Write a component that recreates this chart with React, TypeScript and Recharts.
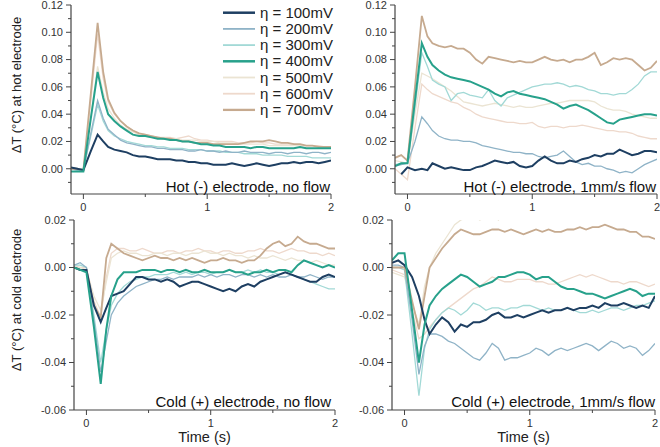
import React from "react";
import { LineChart, Line, XAxis, YAxis, Legend } from "recharts";

// time base (s), a bit denser around the 0.1 s transient
const times = [
  -0.1, -0.05, 0, 0.06, 0.115, 0.16, 0.2,
  0.25, 0.3, 0.35, 0.4, 0.45, 0.5, 0.55, 0.6, 0.65, 0.7, 0.75, 0.8, 0.85, 0.9, 0.95, 1.0,
  1.05, 1.1, 1.15, 1.2, 1.25, 1.3, 1.35, 1.4, 1.45, 1.5, 1.55, 1.6, 1.65, 1.7, 1.75, 1.8, 1.85, 1.9, 1.95, 2.0,
];

const timeTicks = [0, 0.5, 1, 1.5, 2];
const hotTicks = [-0.01, 0, 0.01, 0.02, 0.03, 0.04, 0.05, 0.06, 0.07, 0.08, 0.09, 0.1, 0.11, 0.12];
const coldTicks = [-0.06, -0.05, -0.04, -0.03, -0.02, -0.01, 0, 0.01, 0.02];

// hot electrode, no flow
const hn100 = [0.001, 0.0, -0.001, 0.013, 0.025, 0.02, 0.016,
  0.014, 0.013, 0.012, 0.01, 0.009, 0.009, 0.008, 0.007, 0.007, 0.007, 0.006, 0.006,
  0.005, 0.005, 0.004, 0.004, 0.003, 0.003, 0.003, 0.004, 0.003, 0.002, 0.003, 0.004,
  0.003, 0.002, 0.003, 0.004, 0.004, 0.005, 0.004, 0.005, 0.005, 0.004, 0.005, 0.006];
const hn200 = [0.0, -0.001, -0.001, 0.026, 0.05, 0.037, 0.029,
  0.025, 0.021, 0.019, 0.018, 0.017, 0.016, 0.016, 0.015, 0.015, 0.014, 0.014, 0.014,
  0.013, 0.013, 0.014, 0.013, 0.013, 0.012, 0.013, 0.012, 0.012, 0.013, 0.012, 0.012,
  0.012, 0.011, 0.012, 0.012, 0.011, 0.012, 0.012, 0.011, 0.012, 0.012, 0.011, 0.012];
const hn300 = [0.001, 0.0, 0.0, 0.024, 0.047, 0.035, 0.028,
  0.024, 0.022, 0.02, 0.019, 0.018, 0.017, 0.017, 0.016, 0.016, 0.015, 0.015, 0.015,
  0.014, 0.014, 0.014, 0.013, 0.013, 0.013, 0.012, 0.012, 0.012, 0.011, 0.011, 0.011,
  0.01, 0.01, 0.01, 0.01, 0.009, 0.009, 0.009, 0.009, 0.008, 0.008, 0.008, 0.008];
const hn400 = [-0.002, -0.002, -0.002, 0.037, 0.071, 0.052, 0.04,
  0.035, 0.031, 0.028, 0.025, 0.024, 0.024, 0.023, 0.022, 0.022, 0.021, 0.021, 0.02,
  0.02, 0.019, 0.018, 0.018, 0.017, 0.017, 0.016, 0.016, 0.016, 0.016, 0.015, 0.016,
  0.016, 0.015, 0.015, 0.015, 0.015, 0.015, 0.016, 0.015, 0.015, 0.015, 0.015, 0.015];
const hn500 = [0.0, 0.0, -0.001, 0.038, 0.075, 0.056, 0.044,
  0.037, 0.032, 0.029, 0.027, 0.025, 0.024, 0.023, 0.023, 0.022, 0.022, 0.022, 0.021,
  0.021, 0.021, 0.02, 0.02, 0.02, 0.019, 0.019, 0.019, 0.018, 0.018, 0.018, 0.018,
  0.018, 0.017, 0.017, 0.017, 0.017, 0.017, 0.017, 0.017, 0.017, 0.016, 0.016, 0.016];
const hn600 = [0.0, 0.0, 0.0, 0.05, 0.099, 0.066, 0.049,
  0.04, 0.035, 0.031, 0.028, 0.026, 0.025, 0.024, 0.023, 0.023, 0.023, 0.022, 0.023,
  0.024, 0.022, 0.021, 0.021, 0.02, 0.02, 0.02, 0.02, 0.019, 0.019, 0.019, 0.02,
  0.019, 0.019, 0.018, 0.018, 0.018, 0.018, 0.017, 0.017, 0.017, 0.017, 0.016, 0.016];
const hn700 = [0.0, 0.0, -0.001, 0.055, 0.107, 0.071, 0.051,
  0.041, 0.035, 0.031, 0.028, 0.026, 0.025, 0.024, 0.023, 0.022, 0.022, 0.021, 0.02,
  0.02, 0.019, 0.019, 0.019, 0.018, 0.018, 0.018, 0.018, 0.018, 0.019, 0.02, 0.02,
  0.02, 0.021, 0.02, 0.019, 0.019, 0.018, 0.018, 0.017, 0.017, 0.016, 0.016, 0.016];

// hot electrode, 1mm/s flow
const hf100 = [null, -0.004, 0.001, -0.001, 0.0, -0.001, 0.004,
  0.002, 0.0, 0.001, 0.0, -0.001, -0.001, 0.001, 0.002, 0.004, 0.006, 0.005, 0.004,
  0.005, 0.002, 0.001, 0.002, 0.006, 0.009, 0.006, 0.004, 0.004, 0.006, 0.005, 0.007,
  0.008, 0.01, 0.009, 0.011, 0.011, 0.014, 0.012, 0.01, 0.011, 0.013, 0.013, 0.012];
const hf200 = [0.002, 0.003, 0.004, 0.02, 0.038, 0.033, 0.028,
  0.024, 0.022, 0.021, 0.021, 0.02, 0.02, 0.019, 0.017, 0.016, 0.015, 0.014, 0.013,
  0.012, 0.012, 0.011, 0.011, 0.009, 0.008, 0.009, 0.01, 0.013, 0.009, 0.005, 0.003,
  0.004, 0.002, 0.002, 0.0, -0.001, -0.003, -0.002, -0.003, 0.0, 0.003, 0.005, 0.007];
const hf300 = [0.003, 0.004, 0.004, 0.045, 0.085, 0.075, 0.065,
  0.062, 0.06, 0.05, 0.055, 0.056, 0.054, 0.053, 0.052, 0.058, 0.05, 0.046, 0.052,
  0.054, 0.056, 0.058, 0.06, 0.061, 0.062, 0.062, 0.063, 0.062, 0.06, 0.061, 0.06,
  0.058, 0.057, 0.055, 0.055, 0.054, 0.055, 0.055, 0.058, 0.062, 0.068, 0.071, 0.071];
const hf400 = [0.002, 0.004, 0.004, 0.05, 0.092, 0.082, 0.076,
  0.072, 0.069, 0.067, 0.066, 0.065, 0.064, 0.062, 0.06, 0.058, 0.055, 0.053, 0.056,
  0.057, 0.055, 0.054, 0.053, 0.052, 0.051, 0.049, 0.047, 0.044, 0.046, 0.047, 0.045,
  0.043, 0.04, 0.037, 0.034, 0.033, 0.036, 0.037, 0.038, 0.039, 0.04, 0.04, 0.039];
const hf500 = [0.006, 0.005, 0.004, 0.04, 0.07, 0.068, 0.066,
  0.063, 0.06, 0.057, 0.053, 0.049, 0.048, 0.047, 0.046, 0.047, 0.048, 0.047, 0.046,
  0.045, 0.046, 0.045, 0.045, 0.046, 0.047, 0.048, 0.048, 0.049, 0.05, 0.05, 0.05,
  0.05, 0.049, 0.046, 0.044, 0.043, 0.043, 0.042, 0.04, 0.039, 0.038, 0.037, 0.037];
const hf600 = [0.0, -0.004, -0.008, 0.03, 0.062, 0.058, 0.055,
  0.053, 0.051, 0.049, 0.048, 0.045, 0.043, 0.04, 0.038, 0.037, 0.036, 0.035, 0.034,
  0.034, 0.033, 0.033, 0.034, 0.031, 0.03, 0.031, 0.031, 0.03, 0.031, 0.031, 0.032,
  0.031, 0.03, 0.029, 0.028, 0.028, 0.027, 0.027, 0.026, 0.024, 0.023, 0.022, 0.022];
const hf700 = [0.008, 0.01, 0.006, 0.06, 0.112, 0.097, 0.092,
  0.09, 0.089, 0.09, 0.088, 0.088, 0.085, 0.08, 0.077, 0.082, 0.081, 0.08, 0.079,
  0.078, 0.079, 0.078, 0.078, 0.08, 0.082, 0.08, 0.079, 0.08, 0.078, 0.08, 0.08,
  0.082, 0.085, 0.076, 0.078, 0.081, 0.08, 0.081, 0.08, 0.076, 0.072, 0.074, 0.079];

// cold electrode, no flow
const cn100 = [0.0, -0.001, -0.001, -0.016, -0.023, -0.017, -0.012,
  -0.011, -0.01, -0.007, -0.004, -0.004, -0.005, -0.005, -0.006, -0.005, -0.006, -0.008, -0.007,
  -0.006, -0.006, -0.007, -0.008, -0.009, -0.01, -0.009, -0.01, -0.008, -0.007, -0.008, -0.006,
  -0.005, -0.004, -0.003, -0.002, -0.003, -0.004, -0.005, -0.006, -0.006, -0.004, -0.003, -0.004];
const cn200 = [0.001, 0.002, 0.0, -0.022, -0.044, -0.031, -0.02,
  -0.015, -0.012, -0.01, -0.008, -0.007, -0.006, -0.005, -0.005, -0.004, -0.005, -0.004, -0.004,
  -0.004, -0.003, -0.004, -0.003, -0.004, -0.003, -0.003, -0.004, -0.003, -0.003, -0.004, -0.003,
  -0.004, -0.003, -0.004, -0.004, -0.003, -0.004, -0.004, -0.003, -0.004, -0.005, -0.004, -0.004];
const cn300 = [0.001, 0.001, 0.0, -0.02, -0.04, -0.026, -0.016,
  -0.011, -0.008, -0.006, -0.005, -0.004, -0.004, -0.003, -0.003, -0.003, -0.002, -0.003, -0.002,
  -0.003, -0.002, -0.002, -0.003, -0.002, -0.002, -0.001, -0.002, -0.002, -0.001, -0.002, -0.001,
  -0.002, -0.002, -0.003, -0.002, -0.003, -0.004, -0.005, -0.006, -0.007, -0.008, -0.009, -0.009];
const cn400 = [0.0, -0.001, -0.002, -0.025, -0.049, -0.026, -0.012,
  -0.005, -0.002, -0.002, -0.002, -0.001, -0.001, -0.001, -0.002, -0.001, -0.001, -0.002, -0.001,
  -0.002, -0.002, -0.001, -0.002, -0.002, -0.002, -0.001, -0.002, -0.002, -0.003, -0.002, -0.002,
  -0.001, -0.002, -0.001, -0.001, -0.002, 0.001, 0.003, 0.002, 0.001, 0.0, 0.001, 0.0];
const cn500 = [0.0, 0.0, -0.001, -0.012, -0.018, -0.006, 0.004,
  0.006, 0.007, 0.006, 0.006, 0.005, 0.005, 0.006, 0.006, 0.005, 0.006, 0.006, 0.005,
  0.006, 0.006, 0.007, 0.006, 0.006, 0.005, 0.006, 0.005, 0.005, 0.004, 0.005, 0.004,
  0.004, 0.005, 0.004, 0.003, 0.004, 0.003, 0.003, 0.002, 0.003, 0.002, 0.001, 0.001];
const cn600 = [0.001, 0.0, 0.0, -0.014, -0.021, -0.004, 0.006,
  0.008, 0.008, 0.007, 0.007, 0.008, 0.007, 0.006, 0.006, 0.007, 0.007, 0.006, 0.007,
  0.007, 0.008, 0.007, 0.007, 0.006, 0.007, 0.007, 0.006, 0.006, 0.007, 0.007, 0.008,
  0.007, 0.007, 0.006, 0.007, 0.008, 0.007, 0.007, 0.006, 0.006, 0.005, 0.006, 0.005];
const cn700 = [0.0, -0.001, -0.001, -0.016, -0.021, 0.004, 0.01,
  0.008, 0.006, 0.005, 0.004, 0.003, 0.004, 0.005, 0.004, 0.004, 0.003, 0.004, 0.003,
  0.004, 0.003, 0.002, 0.003, 0.003, 0.004, 0.003, 0.003, 0.002, 0.003, 0.003, 0.005,
  0.008, 0.01, 0.011, 0.009, 0.01, 0.013, 0.011, 0.01, 0.01, 0.009, 0.008, 0.008];

// cold electrode, 1mm/s flow
const cf100 = [0.002, 0.003, 0.001, -0.004, -0.012, -0.022, -0.028,
  -0.024, -0.021, -0.023, -0.027, -0.024, -0.025, -0.023, -0.023, -0.022, -0.02, -0.019, -0.021,
  -0.021, -0.02, -0.021, -0.02, -0.019, -0.018, -0.019, -0.018, -0.018, -0.017, -0.018, -0.017,
  -0.017, -0.016, -0.017, -0.015, -0.016, -0.016, -0.015, -0.016, -0.017, -0.016, -0.017, -0.012];
const cf200 = [0.001, 0.001, 0.0, -0.022, -0.045, -0.033, -0.028,
  -0.028, -0.029, -0.031, -0.032, -0.034, -0.036, -0.038, -0.039, -0.036, -0.032, -0.034, -0.039,
  -0.038, -0.038, -0.037, -0.036, -0.034, -0.035, -0.037, -0.035, -0.034, -0.035, -0.034, -0.033,
  -0.032, -0.033, -0.035, -0.033, -0.031, -0.032, -0.034, -0.033, -0.034, -0.037, -0.035, -0.032];
const cf300 = [0.0, 0.0, -0.001, -0.028, -0.054, -0.034, -0.026,
  -0.022, -0.019, -0.017, -0.018, -0.02, -0.018, -0.015, -0.016, -0.018, -0.017, -0.017, -0.018,
  -0.017, -0.017, -0.016, -0.016, -0.017, -0.018, -0.017, -0.018, -0.018, -0.017, -0.018, -0.019,
  -0.019, -0.018, -0.019, -0.018, -0.017, -0.017, -0.018, -0.017, -0.016, -0.016, -0.015, -0.014];
const cf400 = [0.003, 0.006, 0.006, -0.018, -0.04, -0.024, -0.016,
  -0.012, -0.009, -0.007, -0.005, -0.003, -0.004, -0.006, -0.008, -0.007, -0.006, -0.004, -0.004,
  -0.003, -0.002, -0.002, -0.003, -0.005, -0.004, -0.004, -0.006, -0.008, -0.009, -0.009, -0.01,
  -0.011, -0.011, -0.012, -0.013, -0.012, -0.011, -0.01, -0.009, -0.01, -0.012, -0.011, -0.011];
const cf500 = [-0.002, -0.003, -0.004, -0.015, -0.024, -0.008, 0.0,
  0.006, 0.01, 0.014, 0.018, 0.02, 0.021, 0.022, 0.02, 0.021, 0.022, 0.02, 0.024,
  0.025, 0.026, 0.025, 0.026, 0.027, 0.026, 0.026, 0.027, 0.026, 0.025, 0.026, 0.025,
  0.026, 0.025, 0.026, 0.025, 0.026, 0.025, 0.025, 0.026, 0.025, 0.025, 0.024, 0.025];
const cf600 = [-0.001, -0.002, -0.003, -0.018, -0.03, -0.028, -0.025,
  -0.022, -0.019, -0.017, -0.015, -0.013, -0.011, -0.009, -0.008, -0.006, -0.004, -0.005, -0.006,
  -0.006, -0.005, -0.005, -0.005, -0.006, -0.006, -0.007, -0.007, -0.006, -0.005, -0.004, -0.003,
  -0.004, -0.003, -0.004, -0.005, -0.006, -0.006, -0.007, -0.006, -0.006, -0.007, -0.008, -0.007];
const cf700 = [0.0, 0.0, 0.0, -0.014, -0.026, -0.012, 0.0,
  0.004, 0.008, 0.011, 0.014, 0.016, 0.015, 0.014, 0.014, 0.015, 0.016, 0.016, 0.015,
  0.016, 0.015, 0.014, 0.015, 0.016, 0.015, 0.016, 0.015, 0.015, 0.016, 0.016, 0.017,
  0.016, 0.017, 0.017, 0.018, 0.017, 0.016, 0.016, 0.015, 0.015, 0.013, 0.013, 0.012];

const series = [
  { key: "s100", label: "η = 100mV", color: "#1e3f62", width: 2 },
  { key: "s200", label: "η = 200mV", color: "#8fb3c7", width: 1.3 },
  { key: "s300", label: "η = 300mV", color: "#a2d9d6", width: 1.3 },
  { key: "s400", label: "η = 400mV", color: "#27a18b", width: 2 },
  { key: "s500", label: "η = 500mV", color: "#ebe4d3", width: 1.3 },
  { key: "s600", label: "η = 600mV", color: "#eed9cc", width: 1.3 },
  { key: "s700", label: "η = 700mV", color: "#c6aa8f", width: 1.8 },
];
const drawOrder = ["s600", "s500", "s300", "s200", "s700", "s100", "s400"];

const axisColor = "#444";
const font = "'Liberation Sans', Arial, sans-serif";

function buildRows(cols: (number | null)[][]) {
  return times.map((t, i) => {
    const row: Record<string, number | null> = { t };
    series.forEach((s, k) => {
      row[s.key] = cols[k][i];
    });
    return row;
  });
}

const hotNoFlow = buildRows([hn100, hn200, hn300, hn400, hn500, hn600, hn700]);
const hotFlow = buildRows([hf100, hf200, hf300, hf400, hf500, hf600, hf700]);
const coldNoFlow = buildRows([cn100, cn200, cn300, cn400, cn500, cn600, cn700]);
const coldFlow = buildRows([cf100, cf200, cf300, cf400, cf500, cf600, cf700]);

// tickSize/tickMargin are 0, so x,y here sit on the axis line
function YTick(props: any) {
  const { x, y, payload } = props;
  const v = payload.value as number;
  const major = Math.round(v * 100) % 2 === 0;
  return (
    <g>
      <line x1={x - (major ? 5 : 3)} x2={x} y1={y} y2={y} stroke={axisColor} strokeWidth={1} />
      {major && (
        <text x={x - 8} y={y} dy="0.35em" textAnchor="end" fontSize={11} fill="#333">
          {v.toFixed(2)}
        </text>
      )}
    </g>
  );
}

function XTick(props: any) {
  const { x, y, payload } = props;
  const v = payload.value as number;
  const major = Number.isInteger(v);
  return (
    <g>
      <line x1={x} x2={x} y1={y} y2={y + (major ? 5 : 3)} stroke={axisColor} strokeWidth={1} />
      {major && (
        <text x={x} y={y + 17} textAnchor="middle" fontSize={11} fill="#333">
          {v}
        </text>
      )}
    </g>
  );
}

function LegendBox() {
  return (
    <svg width={125} height={118} style={{ display: "block" }}>
      {series.map((s, i) => {
        const cy = 8.7 + i * 16.2;
        return (
          <g key={s.key}>
            <line x1={1} x2={33} y1={cy} y2={cy} stroke={s.color} strokeWidth={s.width + 0.5} />
            <text x={38} y={cy + 5} fontSize={15} fill="#222" fontFamily={font}>
              {s.label}
            </text>
          </g>
        );
      })}
    </svg>
  );
}

type PanelProps = {
  rows: Record<string, number | null>[];
  left: number;
  top: number;
  width: number;
  height: number;
  margin: { top: number; right: number; bottom: number; left: number };
  yWidth: number;
  xHeight: number;
  yDomain: [number, number];
  yTicks: number[];
  timeLabel?: boolean;
  legend?: boolean;
};

function Panel(p: PanelProps) {
  return (
    <div style={{ position: "absolute", left: p.left, top: p.top }}>
      <LineChart width={p.width} height={p.height} data={p.rows} margin={p.margin}>
        <XAxis
          type="number"
          dataKey="t"
          domain={[-0.1, 2]}
          ticks={timeTicks}
          interval={0}
          allowDataOverflow
          height={p.xHeight}
          tickSize={0}
          tickMargin={0}
          tickLine={false}
          tick={(tp: any) => <XTick {...tp} />}
          axisLine={{ stroke: axisColor, strokeWidth: 1.2 }}
          label={
            p.timeLabel
              ? { value: "Time (s)", position: "bottom", offset: 2, fill: "#222", fontSize: 14.5 }
              : undefined
          }
        />
        <YAxis
          type="number"
          domain={p.yDomain}
          ticks={p.yTicks}
          interval={0}
          allowDataOverflow
          width={p.yWidth}
          tickSize={0}
          tickMargin={0}
          tickLine={false}
          tick={(tp: any) => <YTick {...tp} />}
          axisLine={{ stroke: axisColor, strokeWidth: 1.2 }}
        />
        {drawOrder.map((k) => {
          const s = series.find((x) => x.key === k)!;
          return (
            <Line
              key={k}
              type="linear"
              dataKey={k}
              name={s.label}
              stroke={s.color}
              strokeWidth={s.width}
              dot={false}
              activeDot={false}
              isAnimationActive={false}
            />
          );
        })}
        {p.legend && (
          <Legend
            layout="vertical"
            align="center"
            verticalAlign="middle"
            wrapperStyle={{ top: 4, left: 222, width: 125, height: 118 }}
            content={() => <LegendBox />}
          />
        )}
      </LineChart>
    </div>
  );
}

export default function App() {
  return (
    <div
      style={{
        position: "absolute",
        left: 0,
        top: 0,
        width: 660,
        height: 447,
        background: "#fff",
        fontFamily: font,
        overflow: "hidden",
      }}
    >
      <Panel
        rows={hotNoFlow}
        left={0}
        top={0}
        width={340}
        height={215}
        margin={{ top: 5, right: 9, bottom: 0, left: 0 }}
        yWidth={71}
        xHeight={21}
        yDomain={[-0.0185, 0.12]}
        yTicks={hotTicks}
        legend
      />
      <Panel
        rows={hotFlow}
        left={324}
        top={0}
        width={336}
        height={215}
        margin={{ top: 5, right: 3, bottom: 0, left: 0 }}
        yWidth={71}
        xHeight={21}
        yDomain={[-0.0185, 0.12]}
        yTicks={hotTicks}
      />
      <Panel
        rows={coldNoFlow}
        left={0}
        top={210}
        width={345}
        height={237}
        margin={{ top: 10, right: 10, bottom: 17, left: 0 }}
        yWidth={74}
        xHeight={20}
        yDomain={[-0.06, 0.02]}
        yTicks={coldTicks}
        timeLabel
      />
      <Panel
        rows={coldFlow}
        left={320}
        top={210}
        width={340}
        height={237}
        margin={{ top: 10, right: 5, bottom: 17, left: 0 }}
        yWidth={72}
        xHeight={20}
        yDomain={[-0.06, 0.02]}
        yTicks={coldTicks}
        timeLabel
      />
      <svg
        width={660}
        height={447}
        style={{ position: "absolute", left: 0, top: 0, pointerEvents: "none" }}
      >
        <text x={21} y={85} transform="rotate(-90 21 85)" textAnchor="middle" fontSize={13} fill="#222">
          ΔT (°C) at hot electrode
        </text>
        <text x={21} y={300} transform="rotate(-90 21 300)" textAnchor="middle" fontSize={13} fill="#222">
          ΔT (°C) at cold electrode
        </text>
        <text x={330} y={192} textAnchor="end" fontSize={15} fill="#111">
          Hot (-) electrode, no flow
        </text>
        <text x={656} y={192} textAnchor="end" fontSize={15} fill="#111">
          Hot (-) electrode, 1mm/s flow
        </text>
        <text x={331} y={407} textAnchor="end" fontSize={15} fill="#111">
          Cold (+) electrode, no flow
        </text>
        <text x={655} y={407} textAnchor="end" fontSize={15} fill="#111">
          Cold (+) electrode, 1mm/s flow
        </text>
      </svg>
    </div>
  );
}
